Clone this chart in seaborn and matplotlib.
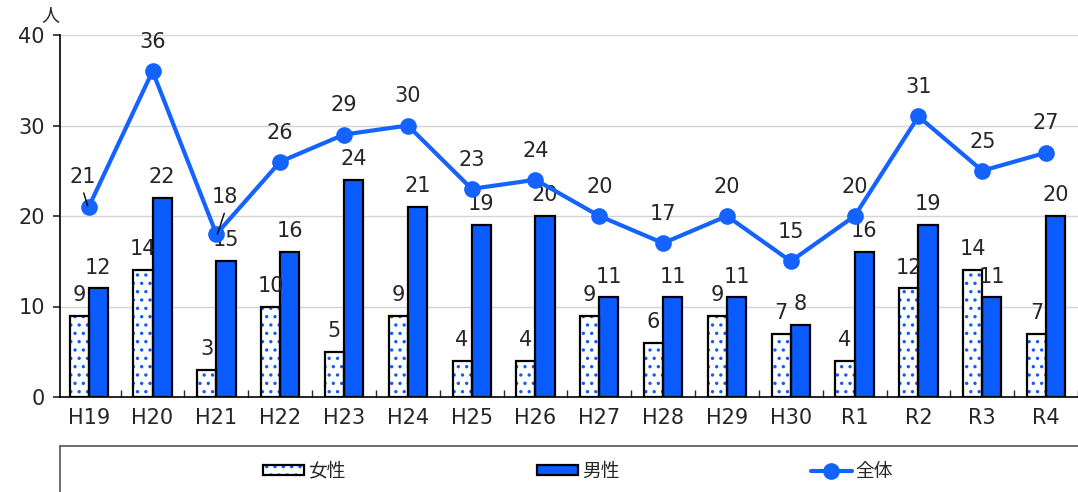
import numpy as np
import pandas as pd
import matplotlib
matplotlib.use('Agg')
import matplotlib.pyplot as plt
import seaborn as sns
from matplotlib.patches import Patch, Rectangle
from matplotlib.lines import Line2D
from matplotlib.legend_handler import HandlerTuple

years = ['H19', 'H20', 'H21', 'H22', 'H23', 'H24', 'H25', 'H26',
         'H27', 'H28', 'H29', 'H30', 'R1', 'R2', 'R3', 'R4']
female = [9, 14, 3, 10, 5, 9, 4, 4, 9, 6, 9, 7, 4, 12, 14, 7]
male = [12, 22, 15, 16, 24, 21, 19, 20, 11, 11, 11, 8, 16, 19, 11, 20]
total = [21, 36, 18, 26, 29, 30, 23, 24, 20, 17, 20, 15, 20, 31, 25, 27]
series_names = ['女性', '男性', '全体']

BLUE = '#0a5cff'
LINE_BLUE = '#1463ff'
FS = 15

sns.set_style('white')
plt.rcParams['font.family'] = ['DejaVu Sans', 'Noto Sans CJK JP']
plt.rcParams['hatch.linewidth'] = 1.2

df = pd.DataFrame({
    'year': years * 2,
    'count': female + male,
    'sex': [series_names[0]] * len(years) + [series_names[1]] * len(years),
})

fig = plt.figure(figsize=(10.78, 4.92), dpi=100)
ax = fig.add_axes([60 / 1078, 1 - 397 / 492, 1 - 60 / 1078, (397 - 35) / 492])

sns.barplot(data=df, x='year', y='count', hue='sex', order=years,
            palette=['white', BLUE], saturation=1, edgecolor='black',
            linewidth=1.6, width=0.6, ax=ax, legend=False, zorder=2)

# dotted female bars: blue dots, black outline on top
for p in ax.containers[0]:
    p.set_hatch('..')
    p.set_edgecolor(BLUE)
    p.set_linewidth(0)
    ax.add_patch(Rectangle(p.get_xy(), p.get_width(), p.get_height(),
                           fill=False, ec='black', lw=1.6, zorder=3))

x = np.arange(len(years))
sns.lineplot(x=x, y=total, color=LINE_BLUE, lw=3, marker='o', markersize=12,
             markeredgewidth=0, ax=ax, zorder=5)

# bar labels
for cont, vals in zip(ax.containers[:2], [female, male]):
    for p, v in zip(cont, vals):
        ax.annotate(str(v), (p.get_x() + p.get_width() / 2, p.get_height()),
                    xytext=(0, 15), textcoords='offset points',
                    ha='center', va='center', fontsize=FS)

# line labels (two of them pulled aside with a leader line)
offsets = {0: (-4.3, 21.6), 2: (5.8, 26.6)}
for i, v in enumerate(total):
    ax.annotate(str(v), (i, v), xytext=offsets.get(i, (0, 21)),
                textcoords='offset points', ha='center', va='center',
                fontsize=FS, zorder=6)
ax.plot([-0.078, -0.016], [22.55, 21.1], color='black', lw=1, zorder=6)
ax.plot([2.124, 2.016], [20.3, 18.0], color='black', lw=1, zorder=6)

ax.set_xlim(-0.45, 15.4)
ax.set_ylim(0, 40)
ax.set_yticks([0, 10, 20, 30, 40])
ax.yaxis.grid(True, color='#d4d4d4', lw=1)
ax.set_axisbelow(True)
ax.set_xlabel('')
ax.set_ylabel('')
for s in ['top', 'right']:
    ax.spines[s].set_visible(False)
for s in ['left', 'bottom']:
    ax.spines[s].set_color('black')
    ax.spines[s].set_linewidth(1.2)
ax.tick_params(axis='y', length=5, width=1.2, direction='out', labelsize=FS, pad=6, left=True)
ax.tick_params(axis='x', length=0, labelsize=FS, pad=8)
ax.set_xticks(np.arange(len(years)) + 0.5, minor=True)
ax.tick_params(axis='x', which='minor', length=5, width=1, direction='in', bottom=True)

fig.text(50 / 1078, 1 - 15 / 492, '人', fontsize=13, ha='center', va='center',
         family='Noto Sans CJK JP')

# legend box
fig.add_artist(Line2D([60 / 1078, 1], [1 - 446 / 492] * 2, color='#555555', lw=1.2))
fig.add_artist(Line2D([60 / 1078] * 2, [0, 1 - 446 / 492], color='#555555', lw=1.2))

h_f = (Patch(facecolor='white', edgecolor=BLUE, hatch='..', lw=0),
       Patch(facecolor='none', edgecolor='black', lw=1.6))
h_m = Patch(facecolor=BLUE, edgecolor='black', lw=1.6)
h_t = Line2D([], [], color=LINE_BLUE, lw=3, marker='o', markersize=11)
fig.legend([h_f, h_m, h_t], series_names, ncol=3, frameon=False,
           loc='center', bbox_to_anchor=(578 / 1078, 1 - 471 / 492),
           handler_map={tuple: HandlerTuple(ndivide=1, pad=0)},
           handlelength=2.2, handleheight=0.45, handletextpad=0.2,
           columnspacing=10.2, prop={'family': 'Noto Sans CJK JP', 'size': 13.5})

fig.savefig('out.png', dpi=100)
